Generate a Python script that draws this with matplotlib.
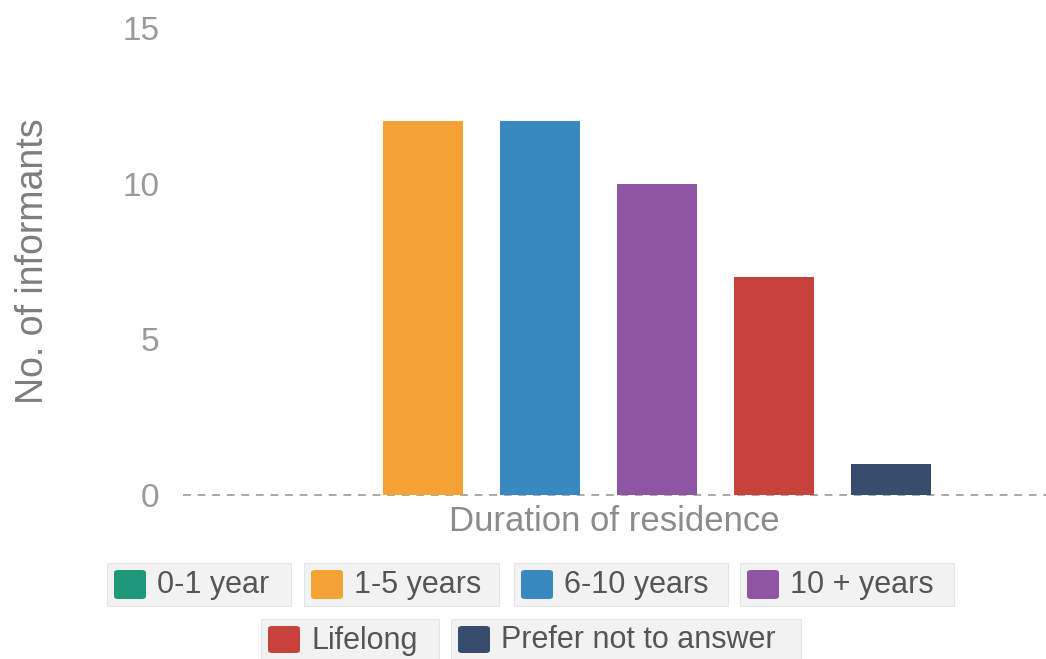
import matplotlib.pyplot as plt
from matplotlib.patches import FancyBboxPatch

plt.rcParams['font.family'] = ['Liberation Sans', 'DejaVu Sans']

# data
categories = ["0-1 year", "1-5 years", "6-10 years", "10 + years",
              "Lifelong", "Prefer not to answer"]
counts = [0, 12, 12, 10, 7, 1]
colors = ["#1f977a", "#f4a233", "#3789c0", "#8f55a5", "#c6423a", "#384c6b"]
y_ticks = [0, 5, 10, 15]

W, H = 1046, 659
fig = plt.figure(figsize=(W / 100, H / 100), dpi=100)
ax = fig.add_axes([183 / W, 1 - 495 / H, (W - 183) / W, (495 - 28) / H])

x = list(range(len(categories)))
ax.bar(x, counts, width=0.68, color=colors, zorder=3)

ax.set_xlim(-1.051, 6.325)
ax.set_ylim(0, 15)
ax.set_yticks(y_ticks)
ax.set_xticks([])
ax.tick_params(axis='y', length=0, pad=17, labelsize=24, labelcolor="#9a9a9a")
for s in ax.spines.values():
    s.set_visible(False)
ax.axhline(0, color="#a8a8a8", lw=1.4, ls=(0, (4, 3.5)), zorder=2, clip_on=False)

ax.set_ylabel("No. of informants", fontsize=27, color="#7d7d7d")
ax.yaxis.set_label_coords(-0.153, 0.5)
ax.set_xlabel("Duration of residence", fontsize=25, color="#8c8c8c")
ax.xaxis.set_label_coords(0.5, -0.022)


# legend, drawn by hand in pixel layout
def px(x0, y0):
    return x0 / W, 1 - y0 / H


def legend_item(label, color, box_l, box_r, top, bottom):
    bx, by = px(box_l, bottom)
    fig.patches.append(FancyBboxPatch((bx, by), (box_r - box_l) / W, (bottom - top) / H,
                                      boxstyle="square,pad=0", transform=fig.transFigure,
                                      facecolor="#f2f2f2", edgecolor="#e4e4e4", lw=0.8))
    sx, sy = px(box_l + 7, bottom - 7)
    fig.patches.append(FancyBboxPatch((sx, sy), 32 / W, (bottom - top - 14) / H,
                                      boxstyle="round,pad=0,rounding_size=0.004",
                                      transform=fig.transFigure,
                                      facecolor=color, edgecolor="none"))
    tx, ty = px(box_l + 50, (top + bottom) / 2 + 1)
    fig.text(tx, ty, label, fontsize=22, color="#555555", va="center", ha="left")


rows = [(107, 291), (304, 499), (514, 728), (740, 954), (261, 439), (451, 801)]
for i, (lab, col) in enumerate(zip(categories, colors)):
    l, r = rows[i]
    if i < 4:
        legend_item(lab, col, l, r, 563, 606)
    else:
        legend_item(lab, col, l, r, 619, 660)

plt.savefig("out.png", dpi=100)
